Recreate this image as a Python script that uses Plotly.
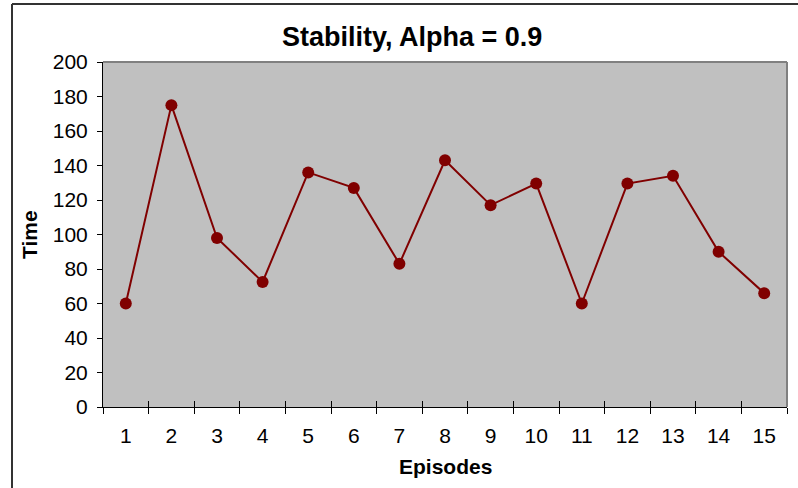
import plotly.graph_objects as go

episodes = [str(i) for i in range(1, 16)]
time_vals = [60, 175, 98, 72.5, 136, 127, 83, 143, 117, 129.5, 60, 129.5, 134, 90, 66]
y_ticks = [0, 20, 40, 60, 80, 100, 120, 140, 160, 180, 200]

FONT = "Arial, Liberation Sans, sans-serif"
W, H = 798, 488
L, R, T, B = 103, 11, 62, 81
pw, ph = W - L - R, H - T - B

def px_x(p):
    return (p - L) / pw

def px_y(p):
    return (H - B - p) / ph

fig = go.Figure()
fig.add_trace(go.Scatter(
    x=episodes, y=time_vals, mode="lines+markers",
    line=dict(color="#800000", width=2),
    marker=dict(color="#800000", size=12),
    showlegend=False, cliponaxis=False,
))
# invisible trace to carry the inner half of the crossing x ticks
fig.add_trace(go.Scatter(
    x=episodes, y=time_vals, xaxis="x2", mode="markers",
    marker=dict(opacity=0), showlegend=False, hoverinfo="skip",
))

xrange = [-0.5, len(episodes) - 0.5]

fig.update_layout(
    width=W, height=H,
    margin=dict(l=L, r=R, t=T, b=B),
    paper_bgcolor="white", plot_bgcolor="#c0c0c0",
    font=dict(family=FONT, size=21, color="black"),
    xaxis=dict(
        type="category", range=xrange, tickson="boundaries", ticks="outside", ticklen=6,
        tickcolor="black", tickwidth=1, showline=True, linecolor="black", linewidth=1,
        showgrid=False, zeroline=False, tickfont=dict(size=21),
        ticklabelstandoff=10,
    ),
    xaxis2=dict(
        type="category", range=xrange, overlaying="x", anchor="y", side="bottom",
        tickson="boundaries", ticks="inside", ticklen=6, tickcolor="black", tickwidth=1,
        showticklabels=False, showline=False, showgrid=False, zeroline=False,
    ),
    yaxis=dict(
        range=[0, 200], tickvals=y_ticks, ticks="outside", ticklen=5,
        tickcolor="black", tickwidth=1, showline=True, linecolor="black", linewidth=1,
        showgrid=False, zeroline=False, tickfont=dict(size=21),
        ticklabelstandoff=5,
    ),
    shapes=[
        dict(type="line", xref="paper", yref="paper", x0=0, x1=1, y0=1, y1=1,
             line=dict(color="#808080", width=2)),
        dict(type="line", xref="paper", yref="paper", x0=1, x1=1, y0=0, y1=1,
             line=dict(color="#808080", width=2)),
        dict(type="line", xref="paper", yref="paper", x0=px_x(12), x1=px_x(12),
             y0=px_y(4), y1=px_y(500), line=dict(color="#333333", width=2)),
        dict(type="line", xref="paper", yref="paper", x0=px_x(12), x1=px_x(820),
             y0=px_y(4), y1=px_y(4), line=dict(color="#333333", width=2)),
    ],
    annotations=[
        dict(text="<b>Stability, Alpha = 0.9</b>", xref="paper", yref="paper",
             x=px_x(412), y=px_y(37), xanchor="center", yanchor="middle",
             showarrow=False, font=dict(size=27)),
        dict(text="<b>Episodes</b>", xref="paper", yref="paper",
             x=px_x(445), y=px_y(467), xanchor="center", yanchor="middle",
             showarrow=False, font=dict(size=21)),
        dict(text="<b>Time</b>", xref="paper", yref="paper", textangle=-90,
             x=px_x(30), y=px_y(235), xanchor="center", yanchor="middle",
             showarrow=False, font=dict(size=21)),
    ],
)

fig.write_html("out.html")
